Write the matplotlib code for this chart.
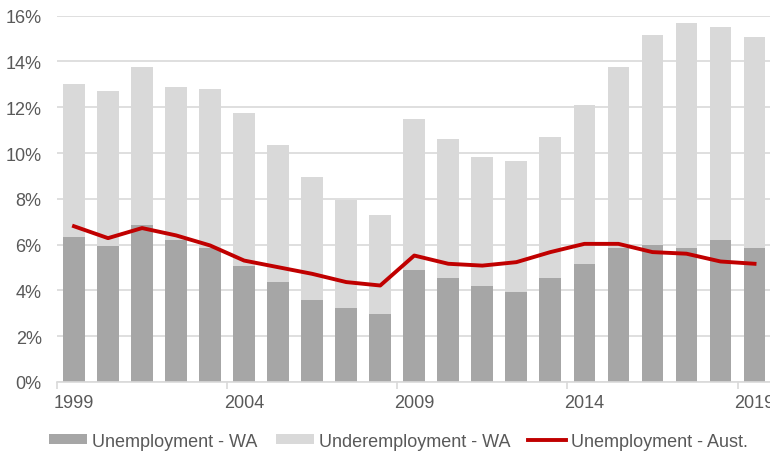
import matplotlib
matplotlib.use('Agg')
import matplotlib.pyplot as plt
import matplotlib.ticker as mticker
import numpy as np

years = list(range(1999, 2020))
# unemployment rate, Western Australia (%)
unemp_wa = [6.35, 5.93, 6.86, 6.19, 5.84, 5.06, 4.36, 3.58, 3.22, 2.97, 4.87,
            4.53, 4.18, 3.92, 4.53, 5.14, 5.84, 5.99, 5.83, 6.18, 5.83]
# underemployment rate, Western Australia (%), stacked on top
underemp_wa = [6.65, 6.79, 6.90, 6.69, 6.97, 6.70, 6.00, 5.38, 4.71, 4.33, 6.63,
               6.09, 5.66, 5.74, 6.18, 6.97, 7.92, 9.16, 9.84, 9.31, 9.23]
# unemployment rate, Australia (%)
unemp_aus = [6.80, 6.28, 6.72, 6.40, 5.96, 5.30, 5.01, 4.72, 4.36, 4.21, 5.52,
             5.16, 5.08, 5.23, 5.67, 6.03, 6.03, 5.67, 5.60, 5.26, 5.16]
label_years = [1999, 2004, 2009, 2014, 2019]

plt.rcParams['font.family'] = ['Liberation Sans', 'DejaVu Sans']
txt = '#595959'
grid = '#D9D9D9'

fig = plt.figure(figsize=(7.7, 4.52), dpi=100)
ax = fig.add_axes([0.074, 0.153, 0.928, 0.81])

x = np.arange(len(years))
b1 = ax.bar(x, unemp_wa, width=0.64, color='#A6A6A6', label='Unemployment - WA', zorder=2)
b2 = ax.bar(x, underemp_wa, width=0.64, bottom=unemp_wa, color='#D9D9D9',
            label='Underemployment - WA', zorder=2)
l1, = ax.plot(x, unemp_aus, color='#C00000', lw=2.8, label='Unemployment - Aust.', zorder=3)

ax.set_xlim(-0.5, len(years) - 0.5)
ax.set_ylim(0, 16)
ax.yaxis.set_major_locator(mticker.MultipleLocator(2))
ax.yaxis.set_major_formatter(mticker.FuncFormatter(lambda v, p: '%d%%' % v))
ax.grid(axis='y', color=grid, lw=1.2, zorder=0)
ax.set_axisbelow(True)

# ticks at category boundaries, labels on the bar centres
pos = [years.index(y) for y in label_years]
ax.set_xticks([p - 0.5 for p in pos])
ax.set_xticklabels([])
ax.set_xticks(pos, minor=True)
ax.set_xticklabels([str(y) for y in label_years], minor=True)
ax.tick_params(axis='x', which='major', length=5, width=1.2, color=grid)
ax.tick_params(axis='x', which='minor', length=0, pad=9, labelsize=13, labelcolor=txt)
ax.tick_params(axis='y', length=0, pad=11, labelsize=13, labelcolor=txt)

for s in ['top', 'right', 'left']:
    ax.spines[s].set_visible(False)
ax.spines['bottom'].set_color(grid)
ax.spines['bottom'].set_linewidth(1.2)

fig.legend([b1, b2, l1], [b1.get_label(), b2.get_label(), l1.get_label()],
           loc='center left', bbox_to_anchor=(0.064, 0.022), ncol=3, frameon=False,
           fontsize=13, labelcolor=txt, handlelength=2.1, handleheight=0.45,
           handletextpad=0.28, columnspacing=1.0, borderpad=0, borderaxespad=0)

fig.savefig('out.png', dpi=100)
